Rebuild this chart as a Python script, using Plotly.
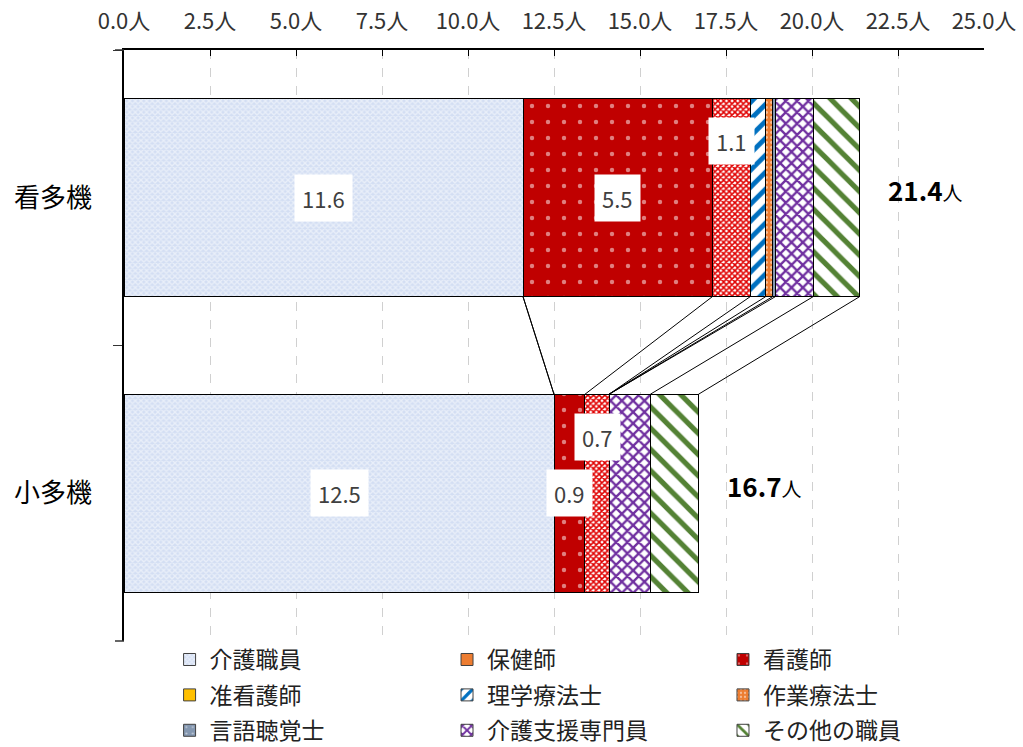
import plotly.graph_objects as go

# Staff composition per facility type (persons)
categories = ["看多機", "小多機"]
series_names = ["介護職員", "保健師", "看護師", "准看護師", "理学療法士",
                "作業療法士", "言語聴覚士", "介護支援専門員", "その他の職員"]
kantaki = [11.6, 0.0, 5.5, 1.1, 0.45, 0.2, 0.08, 1.1, 1.35]
shotaki = [12.5, 0.0, 0.9, 0.7, 0.0, 0.0, 0.0, 1.2, 1.4]
labelled = ["介護職員", "看護師", "准看護師"]
x_ticks = [0, 2.5, 5, 7.5, 10, 12.5, 15, 17.5, 20, 22.5, 25]

FONT = "Noto Sans CJK JP"
BARGAP = 0.33
PLOT_W = 1023 - 124 - 39

# Fill styles used for the bars
bar_styles = {
    "介護職員": dict(color="#d3def3", pattern=dict(shape="x", fgcolor="white", size=4, solidity=0.55)),
    "保健師": dict(color="#ed7d31"),
    "看護師": dict(color="#c00000", pattern=dict(shape=".", fgcolor="white", size=16, solidity=0.06)),
    "准看護師": dict(color="white", pattern=dict(shape="x", fgcolor="#e00000", bgcolor="white", size=4, solidity=0.62, fillmode="overlay", fgopacity=1)),
    "理学療法士": dict(color="white", pattern=dict(shape="/", fgcolor="#0070c0", bgcolor="white", size=12, solidity=0.4, fillmode="overlay", fgopacity=1)),
    "作業療法士": dict(color="#ed7d31", pattern=dict(shape=".", fgcolor="white", size=5, solidity=0.25)),
    "言語聴覚士": dict(color="#8497b0", pattern=dict(shape=".", fgcolor="white", size=8, solidity=0.08)),
    "介護支援専門員": dict(color="white", pattern=dict(shape="x", fgcolor="#7030a0", bgcolor="white", size=8, solidity=0.5, fillmode="overlay", fgopacity=1)),
    "その他の職員": dict(color="white", pattern=dict(shape="\\", fgcolor="#548235", bgcolor="white", size=15, solidity=0.35, fillmode="overlay", fgopacity=1)),
}

# Fill styles shown in the legend
legend_styles = dict(bar_styles)
legend_styles["准看護師"] = dict(color="#ffc000")

fig = go.Figure()

for i, name in enumerate(series_names):
    st = bar_styles[name]
    marker = dict(color=st["color"], line=dict(color="black", width=1))
    if "pattern" in st:
        marker["pattern"] = st["pattern"]
    fig.add_trace(go.Bar(
        name=name, y=categories, x=[kantaki[i], shotaki[i]],
        orientation="h", marker=marker, showlegend=False, hoverinfo="skip",
    ))

# Legend entries laid out in three columns (one legend per column)
legend_ids = ["legend", "legend2", "legend3"]
for i, name in enumerate(series_names):
    st = legend_styles[name]
    marker = dict(color=st["color"], line=dict(color="#404040", width=1))
    if "pattern" in st:
        marker["pattern"] = st["pattern"]
    fig.add_trace(go.Bar(
        name=name, y=[None], x=[None], orientation="h", marker=marker,
        showlegend=True, hoverinfo="skip",
        legend=legend_ids[i % 3], legendgroup=f"g{i}",
    ))

# Cumulative boundaries of each stack
def cumulative(vals):
    out, s = [], 0.0
    for v in vals:
        out.append((s, s + v))
        s += v
    return out

cum_top = cumulative(kantaki)
cum_bot = cumulative(shotaki)

annotations = []
label_yshift = {
    ("看多機", "准看護師"): 57,
    ("小多機", "准看護師"): 56,
}
for ci, (cat, cum, vals) in enumerate([("看多機", cum_top, kantaki), ("小多機", cum_bot, shotaki)]):
    for si, name in enumerate(series_names):
        if name not in labelled:
            continue
        a, b = cum[si]
        annotations.append(dict(
            x=(a + b) / 2, y=ci, xref="x", yref="y", text=f"{vals[si]:.1f}",
            showarrow=False, bgcolor="white", borderpad=7,
            font=dict(family=FONT, size=22, color="#404040"),
            yshift=label_yshift.get((cat, name), 0),
        ))
    total = sum(vals)
    annotations.append(dict(
        x=total, y=ci, xref="x", yref="y", xanchor="left",
        text=f"<b>{total:.1f}</b><span style='font-size:20px'>人</span>",
        showarrow=False, xshift=27, yshift=8,
        font=dict(family=FONT, size=26, color="black"),
    ))

# Series lines joining the two stacks
hw = (1 - BARGAP) / 2
shapes = []
for si in range(len(series_names)):
    shapes.append(dict(
        type="line", xref="x", yref="y",
        x0=cum_top[si][1], y0=0 + hw, x1=cum_bot[si][1], y1=1 - hw,
        line=dict(color="black", width=1),
    ))
# Tick marks closing the category axis at both ends
for yp in (0, 1):
    shapes.append(dict(
        type="line", xref="paper", yref="paper",
        x0=-9 / PLOT_W, y0=yp, x1=0, y1=yp,
        line=dict(color="#333333", width=1.5),
    ))

legend_common = dict(
    orientation="v", yanchor="top", y=0.005, xanchor="left",
    font=dict(family=FONT, size=23, color="#222222"),
    tracegroupgap=2.5, itemclick=False, bgcolor="rgba(0,0,0,0)",
)

fig.update_layout(
    barmode="stack",
    bargap=BARGAP,
    width=1023, height=747,
    margin=dict(l=124, r=39, t=50, b=106, autoexpand=False),
    paper_bgcolor="white", plot_bgcolor="white",
    font=dict(family=FONT, color="#222222"),
    annotations=annotations,
    shapes=shapes,
    legend=dict(x=0.053, **legend_common),
    legend2=dict(x=0.3756, **legend_common),
    legend3=dict(x=0.6965, **legend_common),
)

fig.update_xaxes(
    range=[0, 25], side="top", tickvals=x_ticks,
    ticktext=[f"{v:.1f}人" for v in x_ticks],
    ticks="inside", ticklen=6, tickcolor="black",
    showline=True, linecolor="black", linewidth=1.5,
    showgrid=True, gridcolor="#d0d0d0", griddash="dash", gridwidth=1,
    zeroline=False,
    tickfont=dict(family=FONT, size=22, color="#333333"),
    ticklabelstandoff=10,
)

fig.update_yaxes(
    type="category", categoryorder="array", categoryarray=categories,
    autorange="reversed",
    showline=True, linecolor="black", linewidth=1.5,
    ticks="outside", tickson="boundaries", ticklen=9, tickcolor="#333333",
    showgrid=False, zeroline=False,
    tickfont=dict(family=FONT, size=26, color="black"),
    ticklabelstandoff=25,
)

fig.write_html("out.html")
